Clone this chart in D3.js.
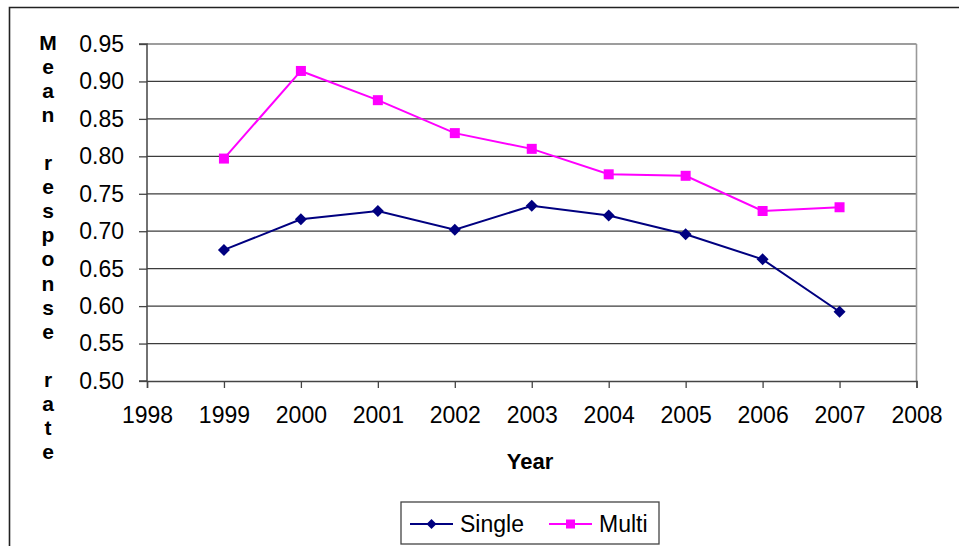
<!DOCTYPE html>
<html><head><meta charset="utf-8">
<script src="https://cdn.jsdelivr.net/npm/d3@7"></script>
<style>body{margin:0;background:#fff;} svg{display:block;font-family:"Liberation Sans",Arial,sans-serif;}</style>
</head><body>
<svg id="c" width="959" height="546"></svg>
<script>
const years = [1999, 2000, 2001, 2002, 2003, 2004, 2005, 2006, 2007];
const single = [0.675, 0.716, 0.727, 0.702, 0.734, 0.721, 0.696, 0.6625, 0.5925];
const multi = [0.797, 0.914, 0.875, 0.831, 0.810, 0.776, 0.774, 0.727, 0.732];
const xTicks = [1998, 1999, 2000, 2001, 2002, 2003, 2004, 2005, 2006, 2007, 2008];
const yTicks = [0.50, 0.55, 0.60, 0.65, 0.70, 0.75, 0.80, 0.85, 0.90, 0.95];
const yTitle = "Mean response rate";
const xTitle = "Year";
const seriesNames = ["Single", "Multi"];

const svg = d3.select("#c");
const L = 147, R = 916.5, T = 44, B = 381;
const x = d3.scaleLinear().domain([1998, 2008]).range([L, R]);
const y = d3.scaleLinear().domain([0.50, 0.95]).range([B, T]);

// outer frame
svg.append("path").attr("d", `M9.5,546 V7.5 H959`).attr("fill", "none").attr("stroke", "#222").attr("stroke-width", 1.6);

// gridlines
svg.append("g").selectAll("line").data(yTicks.slice(1)).join("line")
  .attr("x1", L).attr("x2", R).attr("y1", d => y(d)).attr("y2", d => y(d))
  .attr("stroke", "#3c3c3c").attr("stroke-width", 1.2);
// right border
svg.append("line").attr("x1", R).attr("x2", R).attr("y1", T).attr("y2", B).attr("stroke", "#999").attr("stroke-width", 1.6);

// axes
const yAxis = d3.axisLeft(y).tickValues(yTicks).tickFormat(d3.format(".2f")).tickSize(8).tickPadding(15);
const gy = svg.append("g").attr("transform", `translate(${L},0)`).call(yAxis);
const xAxis = d3.axisBottom(x).tickValues(xTicks).tickFormat(d3.format("d")).tickSize(7).tickPadding(19);
const gx = svg.append("g").attr("transform", `translate(0,${B})`).call(xAxis);
[gx, gy].forEach(g => {
  g.select(".domain").attr("stroke", "#444").attr("stroke-width", 1.5);
  g.selectAll(".tick line").attr("stroke", "#444").attr("stroke-width", 1.3);
  g.selectAll("text").attr("font-size", 23).attr("fill", "#000").attr("font-family", "Liberation Sans, Arial, sans-serif");
});
gy.select(".domain").attr("d", `M-8,${B}H0V${T}H-8`);

// lines
const line = d3.line().x((d, i) => x(years[i])).y(d => y(d));
svg.append("path").datum(single).attr("d", line).attr("fill", "none").attr("stroke", "#000080").attr("stroke-width", 2);
svg.append("path").datum(multi).attr("d", line).attr("fill", "none").attr("stroke", "#FF00FF").attr("stroke-width", 2);

const dia = d3.symbol().type(d3.symbolSquare).size(72);
svg.append("g").selectAll("path").data(single).join("path")
  .attr("transform", (d, i) => `translate(${x(years[i])},${y(d)}) rotate(45)`)
  .attr("d", dia).attr("fill", "#000080");
svg.append("g").selectAll("rect").data(multi).join("rect")
  .attr("x", (d, i) => x(years[i]) - 5).attr("y", d => y(d) - 5)
  .attr("width", 10).attr("height", 10).attr("fill", "#FF00FF");

// y title stacked letters
const chars = Array.from(yTitle);
svg.append("g").selectAll("text").data(chars).join("text")
  .attr("x", 48).attr("y", (d, i) => 42 + i * 24.1).attr("dy", "0.36em")
  .attr("text-anchor", "middle").attr("font-weight", "bold").attr("font-size", 21)
  .text(d => d);

// x title
svg.append("text").attr("x", 530).attr("y", 469).attr("text-anchor", "middle")
  .attr("font-weight", "bold").attr("font-size", 22).text(xTitle);

// legend
const lg = svg.append("g");
lg.append("rect").attr("x", 401).attr("y", 502).attr("width", 258).attr("height", 42)
  .attr("fill", "#fff").attr("stroke", "#444").attr("stroke-width", 1.3);
const legX = [410, 549];
const legC = ["#000080", "#FF00FF"];
seriesNames.forEach((n, i) => {
  lg.append("line").attr("x1", legX[i]).attr("x2", legX[i] + 43).attr("y1", 524).attr("y2", 524)
    .attr("stroke", legC[i]).attr("stroke-width", 2);
  if (i === 0) {
    lg.append("path").attr("transform", `translate(${legX[i] + 21.5},524) rotate(45)`)
      .attr("d", d3.symbol().type(d3.symbolSquare).size(50)).attr("fill", legC[i]);
  } else {
    lg.append("rect").attr("x", legX[i] + 21.5 - 4.5).attr("y", 519.5).attr("width", 9).attr("height", 9).attr("fill", legC[i]);
  }
  lg.append("text").attr("x", legX[i] + 50).attr("y", 532).attr("font-size", 23).text(n);
});
</script>
</body></html>
